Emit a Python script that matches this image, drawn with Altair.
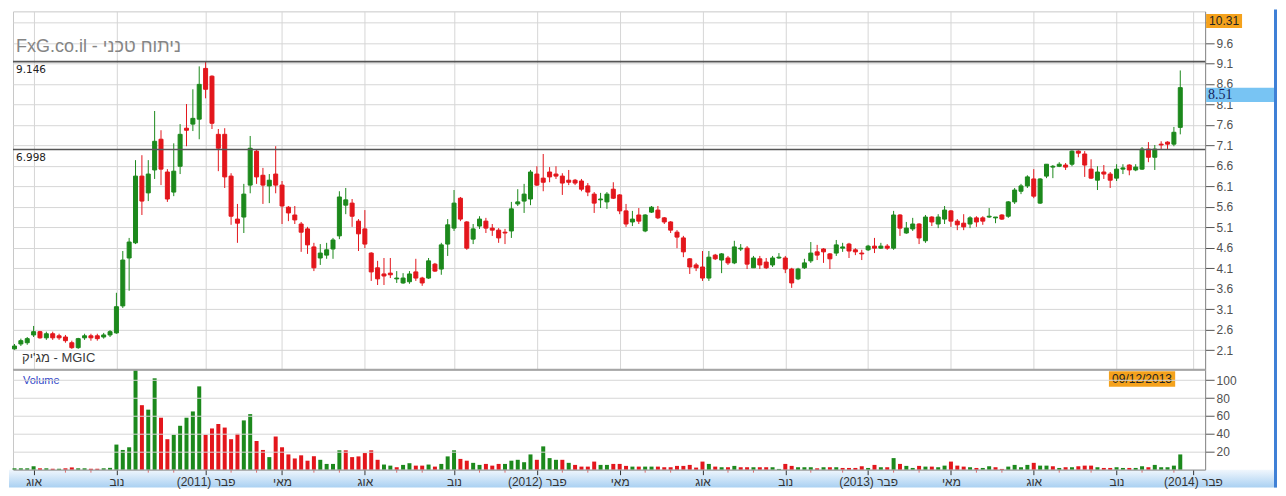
import altair as alt
import numpy as np
import pandas as pd

# ---------------- data (weekly candles, MGIC) ----------------
first_week = "2010-07-12"

opens = [2.13, 2.25, 2.28, 2.47, 2.55, 2.40, 2.50, 2.45, 2.42, 2.28,
         2.16, 2.40, 2.45, 2.45, 2.42, 2.47, 2.52, 3.18, 4.35, 4.72,
         6.35, 5.94, 6.50, 7.25, 6.45, 5.96, 6.59, 7.52, 7.62, 7.74,
         8.98, 8.79, 7.37, 7.37, 6.35, 5.30, 5.35, 6.13, 6.96, 6.37,
         6.11, 6.40, 6.13, 5.59, 5.40, 5.18, 5.06, 4.62, 4.35, 4.42,
         4.57, 4.89, 5.64, 5.69, 5.25, 5.06, 4.47, 4.11, 3.96, 3.98,
         3.84, 3.74, 3.77, 4.01, 3.86, 3.86, 4.20, 4.08, 4.69, 5.08,
         5.81, 5.23, 4.81, 5.13, 5.25, 5.08, 5.03, 4.98, 5.01, 5.67,
         5.74, 5.79, 6.40, 6.30, 6.45, 6.40, 6.35, 6.25, 6.25, 6.23,
         6.11, 5.91, 5.77, 5.72, 6.03, 5.89, 5.50, 5.23, 5.40, 5.01,
         5.47, 5.52, 5.33, 5.23, 4.98, 4.84, 4.33, 4.18, 4.13, 3.86,
         4.42, 4.30, 4.35, 4.23, 4.57, 4.59, 4.11, 4.33, 4.25, 4.18,
         4.35, 4.35, 4.08, 3.84, 4.11, 4.28, 4.50, 4.57, 4.45, 4.47,
         4.59, 4.69, 4.55, 4.47, 4.55, 4.64, 4.59, 4.64, 4.59, 5.40,
         4.96, 5.06, 5.18, 4.77, 5.35, 5.18, 5.30, 5.50, 5.25, 5.20,
         5.18, 5.33, 5.33, 5.35, 5.33, 5.40, 5.37, 5.72, 5.98, 6.11,
         6.28, 5.69, 6.35, 6.57, 6.59, 6.62, 6.64, 6.96, 6.89, 6.52,
         6.25, 6.45, 6.40, 6.30, 6.52, 6.62, 6.50, 6.52, 7.01, 6.81,
         7.13, 7.18, 7.13, 7.54]

closes = [2.20, 2.33, 2.38, 2.55, 2.40, 2.50, 2.40, 2.40, 2.33, 2.16,
          2.38, 2.45, 2.40, 2.38, 2.47, 2.55, 3.16, 4.30, 4.74, 6.35,
          5.74, 6.40, 7.20, 6.52, 5.79, 6.47, 7.37, 7.47, 7.76, 8.59,
          8.47, 7.64, 7.03, 6.33, 5.37, 5.20, 5.91, 7.03, 6.33, 6.13,
          6.25, 6.13, 5.62, 5.45, 5.28, 4.98, 4.67, 4.11, 4.47, 4.55,
          4.79, 5.84, 5.77, 5.37, 4.94, 4.69, 4.01, 3.84, 3.91, 3.94,
          3.86, 3.86, 3.96, 3.86, 3.74, 4.28, 4.03, 4.67, 5.16, 5.69,
          5.30, 4.59, 5.06, 5.30, 5.08, 5.03, 4.84, 4.96, 5.55, 5.72,
          5.91, 6.45, 6.13, 6.20, 6.33, 6.35, 6.18, 6.20, 6.18, 6.03,
          5.96, 5.69, 5.79, 5.91, 5.81, 5.50, 5.18, 5.30, 5.25, 5.40,
          5.59, 5.33, 5.23, 5.03, 4.86, 4.50, 4.13, 4.11, 3.86, 4.37,
          4.33, 4.45, 4.23, 4.62, 4.59, 4.20, 4.35, 4.18, 4.11, 4.35,
          4.37, 4.08, 3.74, 4.08, 4.23, 4.47, 4.42, 4.50, 4.33, 4.67,
          4.62, 4.52, 4.50, 4.45, 4.64, 4.59, 4.64, 4.59, 5.40, 5.08,
          5.08, 5.18, 4.84, 5.35, 5.23, 5.35, 5.52, 5.25, 5.16, 5.11,
          5.33, 5.23, 5.25, 5.37, 5.35, 5.30, 5.72, 6.01, 6.11, 6.33,
          5.86, 6.28, 6.64, 6.59, 6.64, 6.57, 6.96, 6.91, 6.62, 6.30,
          6.45, 6.40, 6.25, 6.52, 6.55, 6.50, 6.57, 7.01, 6.81, 7.01,
          7.11, 7.13, 7.42, 8.51]

highs = [2.25, 2.38, 2.42, 2.69, 2.57, 2.55, 2.55, 2.50, 2.47, 2.33,
         2.40, 2.50, 2.50, 2.50, 2.52, 2.59, 3.50, 4.52, 4.84, 6.74,
         6.86, 6.74, 7.94, 7.47, 6.52, 7.15, 7.62, 8.11, 8.47, 9.03,
         9.15, 8.81, 7.50, 7.52, 6.42, 5.67, 6.16, 7.33, 7.01, 6.55,
         6.40, 7.08, 6.23, 5.62, 5.62, 5.23, 5.11, 4.72, 4.69, 4.72,
         4.84, 5.98, 6.06, 5.79, 5.30, 5.52, 4.49, 4.28, 4.35, 4.35,
         4.03, 3.98, 4.03, 4.33, 3.89, 4.35, 4.23, 4.72, 5.30, 6.01,
         5.84, 5.25, 5.18, 5.37, 5.33, 5.18, 5.08, 5.06, 5.72, 6.03,
         6.16, 6.50, 6.59, 6.89, 6.57, 6.59, 6.42, 6.50, 6.28, 6.28,
         6.18, 5.96, 5.94, 5.96, 6.20, 5.91, 5.67, 5.50, 5.57, 5.42,
         5.62, 5.62, 5.35, 5.25, 5.03, 4.89, 4.35, 4.23, 4.52, 4.52,
         4.45, 4.47, 4.40, 4.77, 4.69, 4.64, 4.40, 4.40, 4.35, 4.40,
         4.47, 4.40, 4.11, 4.11, 4.33, 4.74, 4.67, 4.59, 4.47, 4.79,
         4.72, 4.72, 4.59, 4.55, 4.67, 4.84, 4.72, 4.69, 5.50, 5.42,
         5.23, 5.33, 5.20, 5.40, 5.37, 5.42, 5.62, 5.52, 5.30, 5.42,
         5.37, 5.37, 5.37, 5.57, 5.35, 5.42, 5.74, 6.06, 6.16, 6.37,
         6.52, 6.30, 6.64, 6.62, 6.69, 6.67, 6.98, 6.98, 6.96, 6.76,
         6.59, 6.62, 6.45, 6.64, 6.64, 6.64, 6.64, 7.06, 7.18, 7.11,
         7.20, 7.20, 7.55, 8.93]

lows = [2.11, 2.20, 2.23, 2.42, 2.38, 2.35, 2.35, 2.35, 2.28, 2.13,
        2.13, 2.35, 2.33, 2.33, 2.38, 2.42, 2.50, 3.13, 3.55, 4.69,
        5.40, 5.74, 6.28, 6.13, 5.72, 5.86, 6.40, 7.08, 7.45, 7.25,
        8.25, 7.50, 6.47, 6.06, 5.16, 4.72, 4.96, 5.93, 6.16, 5.67,
        5.69, 5.93, 5.18, 5.25, 5.18, 4.50, 4.45, 4.03, 4.18, 4.33,
        4.33, 4.81, 5.42, 5.11, 4.52, 4.59, 3.79, 3.69, 3.69, 3.86,
        3.74, 3.72, 3.72, 3.79, 3.67, 3.84, 4.01, 3.94, 4.40, 5.01,
        5.25, 4.55, 4.69, 5.06, 4.96, 4.89, 4.72, 4.69, 4.84, 5.62,
        5.45, 5.64, 6.11, 5.98, 6.20, 6.28, 5.89, 6.13, 6.13, 5.98,
        5.86, 5.45, 5.57, 5.55, 5.79, 5.42, 5.11, 5.13, 5.18, 4.98,
        5.45, 5.30, 5.18, 4.96, 4.59, 4.37, 3.96, 4.03, 3.79, 3.79,
        4.30, 3.98, 4.18, 4.20, 4.52, 4.08, 4.11, 4.08, 4.08, 4.13,
        4.33, 3.98, 3.62, 3.81, 4.08, 4.23, 4.30, 4.23, 4.08, 4.40,
        4.50, 4.35, 4.42, 4.30, 4.52, 4.47, 4.57, 4.55, 4.55, 4.89,
        4.94, 5.01, 4.69, 4.72, 5.13, 5.08, 5.18, 5.11, 5.03, 5.03,
        5.08, 5.11, 5.16, 5.33, 5.20, 5.28, 5.33, 5.67, 5.91, 6.06,
        5.81, 5.67, 6.30, 6.30, 6.57, 6.50, 6.59, 6.81, 6.33, 6.28,
        6.01, 6.28, 6.06, 6.23, 6.40, 6.37, 6.47, 6.50, 6.69, 6.50,
        7.01, 7.01, 7.08, 7.37]

volumes = [1.5, 1.5, 1.5, 3.8, 1.5, 1.5, 1, 1, 1.5, 2.5,
           1.5, 1.5, 1, 1, 1.5, 2, 28, 22, 25, 111,
           72, 67, 102, 58, 34, 39, 49, 58, 65, 93,
           39, 46, 51, 47, 34, 40, 55, 62, 32, 22,
           14, 37, 25, 17, 12.5, 16, 10, 15, 11, 6.4,
           6.4, 21.6, 21.6, 14, 14.8, 18.5, 21.6, 11, 5.7, 4.5,
           2.7, 5.3, 7.2, 4.5, 4.5, 5.7, 3.4, 6.4, 14.8, 21.6,
           12, 10, 7.6, 5.3, 6.4, 4.5, 6.4, 6.4, 10, 11,
           8.3, 17, 11, 26, 12.9, 11, 11, 7.6, 5.3, 3.4,
           3.4, 9, 5.3, 5.3, 6.4, 6.4, 4.2, 3.4, 3.4, 3.4,
           3.4, 3.4, 2.7, 2.7, 4.2, 4.2, 5.3, 2.3, 9, 6.4,
           3.4, 2.7, 2.7, 4.2, 2.7, 2.7, 2.7, 2.7, 2.7, 2.7,
           0.8, 6.4, 4.2, 2.7, 2.7, 2.7, 1.5, 2.7, 2.7, 2.7,
           1.9, 1.9, 1.9, 3.8, 1.9, 5.3, 2.7, 2.7, 12.9, 6.4,
           4.2, 1.9, 4.2, 3.4, 3.4, 2.7, 4.5, 9, 4.5, 3.4,
           2.7, 1.9, 1.9, 3.8, 2.7, 0.8, 3.4, 5.3, 2.7, 5.3,
           7.6, 4.5, 4.5, 3.8, 1.9, 2.7, 2.7, 3.8, 4.5, 4.5,
           2.7, 1.9, 1.9, 2.7, 1.9, 1.9, 1.9, 3.8, 2.7, 5.3,
           2.7, 2.7, 4.5, 17]

major_tick_idx = [3, 16, 30, 42, 55, 69, 82, 95, 108, 121, 134, 147, 160, 173, 185]
major_tick_labels = ["אוג", "נוב", "פבר (2011)", "מאי", "אוג", "נוב", "פבר (2012)", "מאי",
                     "אוג", "נוב", "פבר (2013)", "מאי", "אוג", "נוב", "פבר (2014)"]
price_ticks = [2.1, 2.6, 3.1, 3.6, 4.1, 4.6, 5.1, 5.6, 6.1, 6.6, 7.1, 7.6, 8.1, 8.6, 9.1, 9.6, 10.1]
volume_ticks = [20, 40, 60, 80, 100]
level_values = [9.146, 6.998]
level_labels = ["9.146", "6.998"]
max_tag_value = 10.31
max_tag_label = "10.31"
last_tag_value = 8.51
last_tag_label = "8.51"
date_tag_idx = 177
date_tag_label = "09/12/2013"
title_text = "FxG.co.il - ניתוח טכני"
symbol_text = "מג'יק - MGIC"
volume_text = "Volume"

# ---------------- tables ----------------
n = len(opens)
df = pd.DataFrame({"i": np.arange(n), "open": opens, "high": highs,
                   "low": lows, "close": closes, "volume": volumes})
df["dir"] = np.where(df["close"] >= df["open"], "up", "down")
prev_close = df["close"].shift(1).fillna(df["open"])
df["vdir"] = np.where(df["close"] >= prev_close, "up", "down")

dates = pd.date_range(first_week, periods=190, freq="7D")
mkey = dates.year * 12 + dates.month
minor_idx = [k for k in range(1, 187) if mkey[k] != mkey[k - 1]
             and all(abs(k - m) > 1 for m in major_tick_idx)]
minor_df = pd.DataFrame({"i": minor_idx})

levels_df = pd.DataFrame({"level": level_values, "label": level_labels})
one = pd.DataFrame({"a": [0]})

GREEN = "#1c891c"
RED = "#e3161c"
cscale = alt.Scale(domain=["up", "down"], range=[GREEN, RED])

W = 1194
PH = 359
VH = 100
xdom = [-0.235, 186.9]
xs_p = alt.Scale(domain=xdom, nice=False, zero=False, padding=0)
xs_v = alt.Scale(domain=xdom, nice=False, zero=False, padding=0)
ys_p = alt.Scale(domain=[1.619, 10.373], nice=False, zero=False, padding=0)
ys_v = alt.Scale(domain=[0, 111.5], nice=False, zero=False, padding=0)

# ---------------- price panel ----------------
x_grid_axis = alt.Axis(values=major_tick_idx, grid=True, labels=False, ticks=False,
                       domain=False, title=None, gridColor="#d6d6d6")
# the top grid line (10.1) has its label hidden behind the max-price tag in the reference
y_price_axis = alt.Axis(orient="right", values=price_ticks, grid=True, gridColor="#d6d6d6",
                        title=None, tickSize=9, tickColor="#555555", domainColor="#8a8a8a",
                        labelColor="#505050", labelFontSize=12, labelPadding=2,
                        labelOverlap=False, labelBound=False,
                        labelExpr="datum.value > 10 ? '' : datum.label")


def px(field):
    return alt.X(field, scale=xs_p, axis=x_grid_axis, title=None)


def py(field):
    return alt.Y(field, scale=ys_p, axis=y_price_axis, title=None)


base = alt.Chart(df)

wicks = base.mark_rule(strokeWidth=1).encode(
    x=px("i:Q"), y=py("low:Q"), y2="high:Q",
    color=alt.Color("dir:N", scale=cscale, legend=None),
)
bodies = base.mark_bar(size=4, strokeWidth=1).encode(
    x=px("i:Q"), y=py("open:Q"), y2="close:Q",
    color=alt.Color("dir:N", scale=cscale, legend=None),
    stroke=alt.Stroke("dir:N", scale=cscale, legend=None),
)

level_rules = alt.Chart(levels_df).mark_rule(color="#555555", strokeWidth=1.6).encode(
    y=py("level:Q"))
level_text = alt.Chart(levels_df).mark_text(
    align="left", baseline="middle", dy=8, font="DejaVu Sans", fontSize=10.5, color="#222222"
).encode(x=alt.value(3), y=py("level:Q"), text="label:N")

title_mark = alt.Chart(one).mark_text(
    align="left", baseline="middle", font="Liberation Sans", fontSize=18, color="#858585"
).encode(x=alt.value(3), y=alt.value(36), text=alt.value(title_text))
symbol_mark = alt.Chart(one).mark_text(
    align="left", baseline="middle", font="Liberation Sans", fontSize=13, color="#3a3a3a"
).encode(x=alt.value(9), y=alt.value(347), text=alt.value(symbol_text))

max_df = pd.DataFrame({"v": [max_tag_value], "label": [max_tag_label]})
max_rect = alt.Chart(max_df).transform_calculate(bot="datum.v - 0.345").mark_rect(
    color="#f5a21c").encode(x=alt.value(1195), x2=alt.value(1231), y=py("v:Q"), y2="bot:Q")
max_text = alt.Chart(max_df).transform_calculate(mid="datum.v - 0.17").mark_text(
    align="center", baseline="middle", font="Liberation Sans", fontSize=12, color="#222222"
).encode(x=alt.value(1213), y=py("mid:Q"), text="label:N")

last_df = pd.DataFrame({"v": [last_tag_value], "label": [last_tag_label]})
last_rect = alt.Chart(last_df).transform_calculate(bot="datum.v - 0.35").mark_rect(
    color="#78c4f3").encode(x=alt.value(1195), x2=alt.value(1266), y=py("v:Q"), y2="bot:Q")
last_text = alt.Chart(last_df).transform_calculate(mid="datum.v - 0.175").mark_text(
    align="left", baseline="middle", font="Liberation Serif", fontSize=14, color="#14235c"
).encode(x=alt.value(1197), y=py("mid:Q"), text="label:N")

price = alt.layer(wicks, bodies, level_rules, level_text, title_mark, symbol_mark,
                  max_rect, max_text, last_rect, last_text).properties(width=W, height=PH)

# ---------------- volume panel ----------------
disp_labels = ["\u202b" + s + "\u202c" for s in major_tick_labels]
label_expr = ("[" + ",".join("'" + s + "'" for s in disp_labels) + "][indexof(["
              + ",".join(str(v) for v in major_tick_idx) + "], datum.value)]")
x_vol_axis = alt.Axis(values=major_tick_idx, labelExpr=label_expr, grid=False, tickSize=5,
                      tickColor="#333333", domainColor="#8a8a8a", labelColor="#333333",
                      labelFontSize=12, labelPadding=2, title=None, labelFlush=False,
                      labelOverlap=False, labelBound=False, zindex=1)
y_vol_axis = alt.Axis(orient="right", values=volume_ticks, grid=True, gridColor="#d6d6d6",
                      title=None, tickSize=9, tickColor="#555555", domainColor="#8a8a8a",
                      labelColor="#505050", labelFontSize=12, labelPadding=2, zindex=1)


def vx(field):
    return alt.X(field, scale=xs_v, axis=x_vol_axis, title=None)


band = alt.Chart(one).mark_rect(
    fill=alt.LinearGradient(gradient="linear",
                            stops=[alt.GradientStop(color="#f1f7fd", offset=0),
                                   alt.GradientStop(color="#a9d0f2", offset=1)],
                            x1=0, x2=0, y1=0, y2=1)
).encode(x=alt.value(-4), x2=alt.value(1266), y=alt.value(100), y2=alt.value(118))
right_frame = alt.Chart(one).mark_rect(fill="#3f80d6").encode(
    x=alt.value(1263), x2=alt.value(1266), y=alt.value(-361), y2=alt.value(118))

vbars = base.mark_bar(size=4).encode(
    x=vx("i:Q"),
    y=alt.Y("volume:Q", scale=ys_v, axis=y_vol_axis, title=None),
    color=alt.Color("vdir:N", scale=cscale, legend=None),
)
minor_ticks = alt.Chart(minor_df).mark_rule(color="#e06a6a", strokeWidth=1).encode(
    x=vx("i:Q"), y=alt.value(100), y2=alt.value(103))
separator = alt.Chart(one).mark_rule(color="#a6a6a6", strokeWidth=2).encode(y=alt.value(0))
vol_label = alt.Chart(one).mark_text(
    align="left", baseline="middle", font="Liberation Sans", fontSize=11, color="#2d3fc6"
).encode(x=alt.value(10), y=alt.value(11), text=alt.value(volume_text))

date_df = pd.DataFrame({"c": [date_tag_idx], "label": [date_tag_label]})
date_rect = alt.Chart(date_df).transform_calculate(lo="datum.c - 5.2", hi="datum.c + 5.2").mark_rect(
    color="#f5a21c").encode(x=vx("lo:Q"), x2="hi:Q", y=alt.value(1.5), y2=alt.value(17))
date_text = alt.Chart(date_df).mark_text(
    align="center", baseline="middle", font="Liberation Sans", fontSize=12, color="#222222"
).encode(x=vx("c:Q"), y=alt.value(9.5), text="label:N")

volume = alt.layer(band, vbars, minor_ticks, separator, vol_label, date_rect, date_text,
                   right_frame).properties(width=W, height=VH)

chart = alt.vconcat(price, volume, spacing=0, bounds="flush").resolve_scale(
    x="independent", y="independent", color="shared", stroke="shared"
).properties(
    padding={"left": 0, "top": 0, "right": 0, "bottom": 0}
).configure_view(stroke="#c8c8c8").configure_axis(labelFont="Liberation Sans")

chart.save("out.html", embed_options={"renderer": "svg", "actions": False})
